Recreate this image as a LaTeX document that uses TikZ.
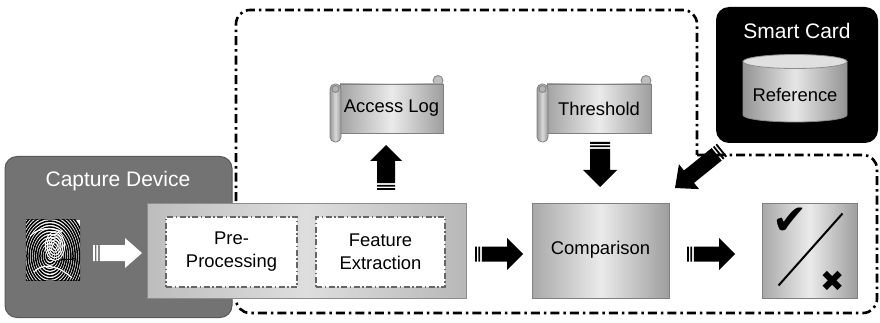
\documentclass[tikz,border=0pt]{standalone}
\usepackage{fontspec}
\setmainfont{Liberation Sans}
\newfontfamily\symfont{DejaVu Sans}
\usetikzlibrary{calc}

% point at distance #3 from #1 towards #2, moved #4 sideways (angle #5)
\newcommand\pA[5]{($(#1)!#3!(#2)!#4!#5:(#2)$)}
% point at distance #3 back from #2 towards #1, moved #4 sideways (angle #5)
\newcommand\pB[5]{($(#2)!#3!(#1)!#4!#5:(#1)$)}
% striped block arrow: tail, tip, body half width, head half width, head length, style
\newcommand\striparrow[6]{%
  \fill[#6]
    \pA{#1}{#2}{0pt}{#3}{90} -- \pA{#1}{#2}{1.8pt}{#3}{90} -- \pA{#1}{#2}{1.8pt}{#3}{-90} -- \pA{#1}{#2}{0pt}{#3}{-90} -- cycle
    \pA{#1}{#2}{3.4pt}{#3}{90} -- \pA{#1}{#2}{5.2pt}{#3}{90} -- \pA{#1}{#2}{5.2pt}{#3}{-90} -- \pA{#1}{#2}{3.4pt}{#3}{-90} -- cycle
    \pA{#1}{#2}{6.8pt}{#3}{90} -- \pB{#1}{#2}{#5}{#3}{-90} -- \pB{#1}{#2}{#5}{#4}{-90} -- (#2)
      -- \pB{#1}{#2}{#5}{#4}{90} -- \pB{#1}{#2}{#5}{#3}{90} -- \pA{#1}{#2}{6.8pt}{#3}{-90} -- cycle;
}
% scroll: name, x0, y0, x1, y1, text
\newcommand\scrollbox[6]{%
  \draw[scrolledge, fill=black!25] (#4-5,#3+5.5) circle (5pt);
  \draw[scrolledge, scrollshade] (#2+10,#3+9) rectangle (#4,#5-9);
  \draw[scrolledge, left color=black!40, right color=black!40, middle color=black!15] [rounded corners=5pt] (#2,#3+9) rectangle (#2+11,#5);
  \draw[scrolledge, fill=black!30] (#2+5.5,#3+14) circle (3.5pt);
  \node[maintext] (#1) at ({(#2+10+#4)/2},{(#3+#5)/2}) {#6};
}

\tikzset{
  maintext/.style={font=\fontsize{18.4}{23}\selectfont, align=center, inner sep=0pt},
  titletext/.style={font=\fontsize{21}{25}\selectfont, text=white, inner sep=0pt},
  boundary/.style={line width=2.6pt, dash pattern=on 9pt off 4pt on 2.5pt off 4pt},
  capbox/.style={rounded corners=12pt, fill=black!55, draw=black!65, line width=1pt},
  procbox/.style={draw=black!45, line width=1pt, left color=black!26, right color=black!28, middle color=black!13},
  innerbox/.style={fill=white, draw=black!60, line width=1.2pt, dash pattern=on 6pt off 2.5pt on 1.5pt off 2.5pt},
  greybox/.style={draw=black!50, line width=1pt, left color=black!34, right color=black!38, middle color=black!8},
  cardbox/.style={rounded corners=13pt, fill=black},
  scrolledge/.style={draw=black!50, line width=0.8pt},
  scrollshade/.style={left color=black!36, right color=black!38, middle color=black!8},
  blackarrow/.style={fill=black},
  whitearrow/.style={fill=white},
}

\begin{document}
\begin{tikzpicture}[x=1pt, y=-1pt]
\useasboundingbox (0,0) rectangle (880,323);

% dash-dotted enclosure of the verification side
\draw[boundary] (697,155) -- (863,155) arc[start angle=90, end angle=0, radius=14pt]
  -- (877,299) arc[start angle=0, end angle=-90, radius=14pt]
  -- (250,313) arc[start angle=-90, end angle=-180, radius=14pt]
  -- (236,24) arc[start angle=180, end angle=90, radius=14pt]
  -- (683,10) arc[start angle=90, end angle=0, radius=14pt]
  -- cycle;

% capture device
\node[capbox, minimum width=227pt, minimum height=161pt] (capture) at (118.5,237) {};
\node[titletext] (captitle) at (118,181) {Capture Device};

% fingerprint sample
\node[inner sep=0pt, minimum width=54pt, minimum height=60pt, fill=white] (fp) at (53,250) {};
\begin{scope}
  \clip (fp.north west) rectangle (fp.south east);
  \fill[white] (fp.north west) rectangle (fp.south east);
  \foreach \r in {2,5,...,50} {
    \draw[black, line width=1.5pt] (50,256) ellipse [x radius=0.72*\r pt, y radius=\r pt];
  }
  \foreach \r in {4,7,...,16} {
    \draw[white, line width=1pt] (55,246) ellipse [x radius=0.6*\r pt, y radius=0.9*\r pt];
  }
  \draw[white, line width=1.2pt] (34,272) .. controls (42,262) and (60,266) .. (72,278);
  \draw[white, line width=1.2pt] (30,236) .. controls (38,228) and (52,226) .. (62,232);
  \draw[black, line width=1pt] (58,262) .. controls (64,256) and (70,262) .. (76,258);
\end{scope}

% feature pipeline
\node[procbox, minimum width=319pt, minimum height=95pt] (proc) at (306.5,250.5) {};
\node[innerbox, minimum width=131pt, minimum height=70pt] (prebox) at (231.5,252) {};
\node[maintext] (pre) at (prebox) {Pre-\\Processing};
\node[innerbox, minimum width=129pt, minimum height=70pt] (featbox) at (380.5,252) {};
\node[maintext] (feat) at (featbox) {Feature\\Extraction};

% comparison and decision
\node[greybox, minimum width=137pt, minimum height=95pt] (cmpbox) at (600.5,250.5) {};
\node[maintext] (cmp) at (600.5,250) {Comparison};
\node[greybox, minimum width=95pt, minimum height=95pt] (dec) at (809.5,250.5) {};
\draw[line width=2pt] ($(dec.south west)+(17,-13)$) -- ($(dec.north east)+(-15,11)$);
\node[inner sep=0pt, font=\symfont\fontsize{42}{42}\selectfont] (accept) at (790,221) {✔};
\node[inner sep=0pt, font=\symfont\fontsize{29}{29}\selectfont] (reject) at (833,281) {✖};

% smart card with stored reference
\node[cardbox, minimum width=162pt, minimum height=136pt] (card) at (797,75) {};
\node[titletext] (cardtitle) at (797,31) {Smart Card};
\shade[draw=black!45, line width=0.8pt, left color=black!42, right color=black!42, middle color=black!10]
  (743,61.5) -- (743,115) arc[start angle=180, end angle=360, x radius=52pt, y radius=7pt]
  -- (847,61.5) -- cycle;
\draw[draw=black!45, line width=0.8pt, fill=black!12] (795,61.5) ellipse [x radius=52pt, y radius=7pt];
\node[maintext] (ref) at (795,95) {Reference};

% log and threshold scrolls
\scrollbox{alog}{330}{75}{443}{142}{Access Log}
\scrollbox{thr}{537}{75}{651}{142}{Threshold}

% block arrows
\coordinate (a0s) at (93,253);   \coordinate (a0e) at (142,253);
\coordinate (a1s) at (475,254);  \coordinate (a1e) at (523,254);
\coordinate (a2s) at (687,254);  \coordinate (a2e) at (735,254);
\coordinate (a3s) at (386,190);  \coordinate (a3e) at (386,145);
\coordinate (a4s) at (600,142);  \coordinate (a4e) at (600,187);
\coordinate (a5s) at (722,150);  \coordinate (a5e) at (675,188);
\striparrow{a0s}{a0e}{8pt}{15pt}{17pt}{whitearrow}
\striparrow{a1s}{a1e}{7.5pt}{16pt}{16pt}{blackarrow}
\striparrow{a2s}{a2e}{7.5pt}{16pt}{16pt}{blackarrow}
\striparrow{a3s}{a3e}{9pt}{16pt}{16pt}{blackarrow}
\striparrow{a4s}{a4e}{10pt}{17pt}{17pt}{blackarrow}
\striparrow{a5s}{a5e}{8pt}{16pt}{18pt}{blackarrow}
\end{tikzpicture}
\end{document}
